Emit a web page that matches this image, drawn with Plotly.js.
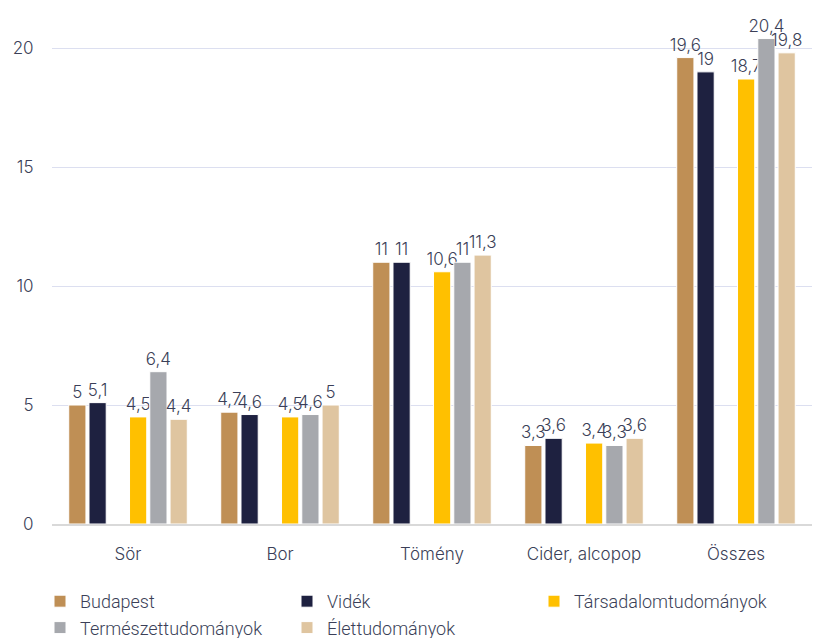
<!DOCTYPE html>
<html><head><meta charset="utf-8">
<script src="https://cdn.plot.ly/plotly-3.0.1.min.js"></script>
<style>body{margin:0;background:#fff}#c{width:814px;height:638px}</style>
</head><body><div id="c"></div>
<script>
const categories = ['Sör', 'Bor', 'Tömény', 'Cider, alcopop', 'Összes'];
const budapest = [5, 4.7, 11, 3.3, 19.6];
const videk = [5.1, 4.6, 11, 3.6, 19];
const tarsadalom = [4.5, 4.5, 10.6, 3.4, 18.7];
const termeszet = [6.4, 4.6, 11, 3.3, 20.4];
const elet = [4.4, 5, 11.3, 3.6, 19.8];
const emptySlot = [null, null, null, null, null];

const fmt = a => a.map(v => v === null ? '' : String(v).replace('.', ','));
const txtColor = '#3b3f58';
const font = 'Inter, Lato, "Noto Sans", sans-serif';

function mk(name, vals, color, show) {
  return {
    type: 'bar', name: name, x: categories, y: vals,
    text: fmt(vals), textposition: 'outside', cliponaxis: false,
    constraintext: 'none',
    textfont: {family: font, size: 17, color: txtColor, weight: 300},
    marker: {color: color, line: {color: '#ffffff', width: 1}},
    showlegend: show, hoverinfo: 'none'
  };
}
const data = [
  mk('Budapest', budapest, '#BF8F55', true),
  mk('Vidék', videk, '#1E2140', true),
  mk('', emptySlot, 'rgba(0,0,0,0)', false),
  mk('Társadalomtudományok', tarsadalom, '#FFC000', true),
  mk('Természettudományok', termeszet, '#A6A8AD', true),
  mk('Élettudományok', elet, '#DFC5A0', true)
];
const layout = {
  width: 814, height: 638,
  margin: {l: 52, r: 2, t: 10, b: 114},
  paper_bgcolor: '#fff', plot_bgcolor: '#fff',
  barmode: 'group', bargap: 0.2, bargroupgap: 0.15,
  font: {family: font, color: txtColor, size: 17},
  xaxis: {
    tickfont: {family: font, size: 17, color: txtColor, weight: 300},
    showgrid: false, showline: true, linecolor: '#d9d9d9', linewidth: 2,
    ticks: '', ticklabelstandoff: 14, automargin: false
  },
  yaxis: {
    range: [0, 21.6], dtick: 5, tick0: 0,
    tickfont: {family: font, size: 17, color: txtColor, weight: 300},
    gridcolor: '#dcdff0', gridwidth: 1, zeroline: false,
    ticks: 'outside', ticklen: 14, tickcolor: 'rgba(0,0,0,0)', automargin: false
  },
  showlegend: true,
  legend: {
    orientation: 'h', xref: 'container', x: 40 / 814, xanchor: 'left',
    yref: 'container', y: 55 / 638, yanchor: 'top',
    entrywidth: 202, entrywidthmode: 'pixels',
    font: {family: 'Roboto, sans-serif', size: 18, color: txtColor, weight: 300},
    itemwidth: 30, tracegroupgap: 0
  }
};
Plotly.newPlot('c', data, layout, {displayModeBar: false, staticPlot: true});
</script></body></html>
